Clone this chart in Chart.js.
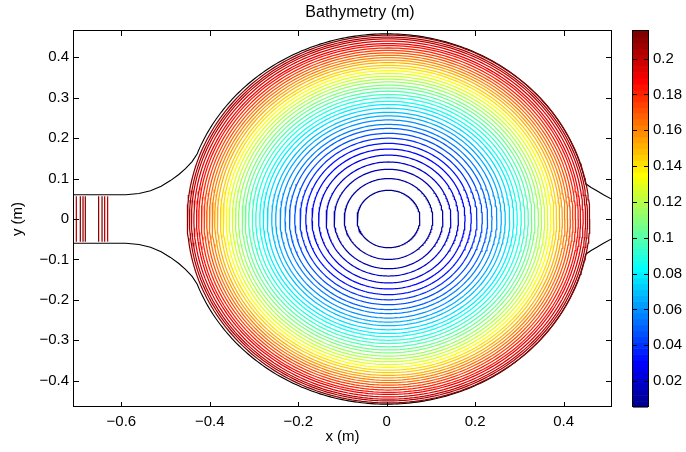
<!DOCTYPE html>
<html><head><meta charset="utf-8">
<script src="https://cdn.jsdelivr.net/npm/chart.js@4/dist/chart.umd.min.js"></script>
<style>
html,body{margin:0;padding:0;background:#fff;overflow:hidden;}
#wrap{position:relative;width:686px;height:452px;background:#fff;overflow:hidden;}
canvas{position:absolute;left:0;top:0;}
</style></head><body>
<div id="wrap"><canvas id="main" width="720" height="452"></canvas><canvas id="cbar" width="686" height="452"></canvas></div>
<script>
// ---------------- data ----------------
const contourLevels = [0.005,0.010,0.015,0.020,0.025,0.030,0.035,0.040,0.045,0.050,
  0.055,0.060,0.065,0.070,0.075,0.080,0.085,0.090,0.095,0.100,
  0.105,0.110,0.115,0.120,0.125,0.130,0.135,0.140,0.145,0.150,
  0.155,0.160,0.165,0.170,0.175,0.180,0.185,0.190,0.195,0.200,0.205,0.210];
const contourRadii = [0.071,0.100,0.123,0.141,0.158,0.173,0.187,0.200,0.212,0.224,
  0.234,0.245,0.255,0.264,0.274,0.283,0.291,0.300,0.308,0.316,
  0.324,0.331,0.339,0.346,0.353,0.360,0.367,0.374,0.380,0.387,
  0.393,0.399,0.405,0.411,0.417,0.423,0.429,0.434,0.440,0.4455,0.450,0.455];
const contourCenterX = 0.004;
const contourCenterY = 0;
const leftFlatX = -0.452;

const channelContourX = [-0.7017,-0.6927,-0.6866,-0.6814,-0.6513,-0.6436,-0.6377,-0.6310];
const channelContourLevels = [0.200,0.210,0.210,0.210,0.210,0.210,0.205,0.200];
const channelContourHalfHeight = 0.056;

const basinRadius = 0.458;
const leftFilletX = [-0.707,-0.590,-0.560,-0.534,-0.510,-0.489,-0.470,-0.455,-0.440,-0.428];
const leftFilletY = [0.060,0.060,0.063,0.070,0.081,0.095,0.110,0.1245,0.142,0.162];
const rightFilletX = [0.450,0.462,0.475,0.490,0.507];
const rightFilletY = [0.087,0.078,0.070,0.060,0.050];

const xTicks = [-0.6,-0.4,-0.2,0,0.2,0.4];
const yTicks = [-0.4,-0.3,-0.2,-0.1,0,0.1,0.2,0.3,0.4];
const cbarTicks = [0.02,0.04,0.06,0.08,0.10,0.12,0.14,0.16,0.18,0.20];
const colorMin = 0.0055, colorMax = 0.2154;
const xRange = [-0.707, 0.507];
const yRange = [-0.465, 0.465];

// ---------------- helpers ----------------
const FONT = "'Liberation Sans', Arial, Helvetica, sans-serif";
const FS = 15;
function jet64(){
  const n=64,m=16,u=[];
  for(let i=1;i<=m;i++)u.push(i/m);
  for(let i=1;i<m;i++)u.push(1);
  for(let i=m;i>=1;i--)u.push(i/m);
  const g0=Math.ceil(m/2)-(n%4===1?1:0);
  const J=Array.from({length:n},()=>[0,0,0]);
  for(let k=0;k<u.length;k++){
    const g=g0+k+1,r=g+m,b=g-m;
    if(r>=1&&r<=n)J[r-1][0]=u[k];
    if(g>=1&&g<=n)J[g-1][1]=u[k];
    if(b>=1&&b<=n)J[b-1][2]=u[k];
  }
  return J;
}
const JET = jet64();
function rgb(c){return `rgb(${Math.round(c[0]*255)},${Math.round(c[1]*255)},${Math.round(c[2]*255)})`;}
function levelColor(v){
  let i=Math.floor((v-colorMin)/(colorMax-colorMin)*64);
  i=Math.max(0,Math.min(63,i));
  return rgb(JET[i]);
}
function fmt(v){
  const s=String(+v.toFixed(2));
  return s.startsWith('-')?'\u2212'+s.slice(1):s;
}

// ---------------- datasets ----------------
const datasets=[];
function line(pts,color,w){
  datasets.push({data:pts,borderColor:color,borderWidth:w||1.25,showLine:true,pointRadius:0,pointHoverRadius:0,fill:false,tension:0});
}
contourLevels.forEach((lv,i)=>{
  const r=contourRadii[i],pts=[];
  for(let a=0;a<=360;a+=1.5){
    const t=a*Math.PI/180;
    let x=contourCenterX+r*Math.cos(t);
    const y=contourCenterY+r*Math.sin(t);
    if(x<leftFlatX)x=leftFlatX;
    pts.push({x,y});
  }
  line(pts,levelColor(lv));
});
channelContourX.forEach((x,i)=>{
  line([{x,y:-channelContourHalfHeight},{x,y:channelContourHalfHeight}],levelColor(channelContourLevels[i]));
});
// basin outline (top and bottom halves)
function outline(sign){
  const pts=[];
  leftFilletX.forEach((x,i)=>pts.push({x,y:sign*leftFilletY[i]}));
  const a0=Math.atan2(leftFilletY[leftFilletY.length-1],leftFilletX[leftFilletX.length-1]);
  const a1=Math.atan2(rightFilletY[0],rightFilletX[0]);
  const N=160;
  for(let k=1;k<N;k++){
    const a=a0+(a1-a0)*k/N;
    pts.push({x:basinRadius*Math.cos(a),y:sign*basinRadius*Math.sin(a)});
  }
  rightFilletX.forEach((x,i)=>pts.push({x,y:sign*rightFilletY[i]}));
  line(pts,'#000',1.1);
}
outline(1);outline(-1);

// ---------------- main chart ----------------
const boxPlugin={id:'box',afterDatasetsDraw(chart){
  const {ctx,chartArea:a,scales:{x,y}}=chart;
  ctx.save();
  ctx.strokeStyle='#000';ctx.lineWidth=1;
  ctx.beginPath();
  xTicks.forEach(v=>{
    const p=Math.round(x.getPixelForValue(v))+0.5;
    ctx.moveTo(p,a.bottom);ctx.lineTo(p,a.bottom-5);
    ctx.moveTo(p,a.top);ctx.lineTo(p,a.top+5);
  });
  yTicks.forEach(v=>{
    const p=Math.round(y.getPixelForValue(v))+0.5;
    ctx.moveTo(a.left,p);ctx.lineTo(a.left+5,p);
    ctx.moveTo(a.right,p);ctx.lineTo(a.right-5,p);
  });
  ctx.stroke();
  ctx.strokeRect(a.left-0.5,a.top-0.5,a.right-a.left+1,a.bottom-a.top);
  ctx.restore();
}};

new Chart(document.getElementById('main'),{
  type:'scatter',
  data:{datasets},
  options:{
    responsive:false,animation:false,events:[],
    layout:{padding:{left:0,right:0,top:0,bottom:0}},
    plugins:{
      legend:{display:false},tooltip:{enabled:false},
      title:{display:true,text:'Bathymetry (m)',color:'#000',font:{family:FONT,size:16,weight:'normal'},padding:{top:3,bottom:8.8}}
    },
    scales:{
      x:{type:'linear',min:xRange[0],max:xRange[1],
        afterBuildTicks:s=>{s.ticks=xTicks.map(v=>({value:v}));},
        afterFit:s=>{s.height=45;},
        grid:{display:false,drawTicks:false},border:{display:false},
        ticks:{callback:v=>fmt(v),color:'#000',font:{family:FONT,size:FS},padding:6,maxRotation:0},
        title:{display:true,text:'x (m)',color:'#000',font:{family:FONT,size:FS},padding:{top:0,bottom:6}}
      },
      y:{type:'linear',min:yRange[0],max:yRange[1],
        afterBuildTicks:s=>{s.ticks=yTicks.map(v=>({value:v}));},
        afterFit:s=>{s.width=74;},
        grid:{display:false,drawTicks:false},border:{display:false},
        ticks:{callback:v=>fmt(v),color:'#000',font:{family:FONT,size:FS},padding:5},
        title:{display:true,text:'y (m)',color:'#000',font:{family:FONT,size:FS},padding:{top:9,bottom:0}}
      },
      yRight:{type:'linear',position:'right',min:yRange[0],max:yRange[1],
        afterFit:s=>{s.width=109;},
        grid:{display:false,drawTicks:false},border:{display:false},
        ticks:{display:false}
      }
    }
  },
  plugins:[boxPlugin]
});

// ---------------- colorbar ----------------
const cbarPlugin={id:'cbar',beforeDatasetsDraw(chart){
  const {ctx,chartArea:a,scales:{y}}=chart;
  ctx.save();
  for(let i=0;i<64;i++){
    const v0=colorMin+(colorMax-colorMin)*i/64, v1=colorMin+(colorMax-colorMin)*(i+1)/64;
    const p0=y.getPixelForValue(v0), p1=y.getPixelForValue(v1);
    ctx.fillStyle=rgb(JET[i]);
    ctx.fillRect(a.left,p1,a.right-a.left,p0-p1+0.6);
  }
  ctx.strokeStyle='#000';ctx.lineWidth=1;ctx.beginPath();
  cbarTicks.forEach(v=>{
    const p=Math.round(y.getPixelForValue(v))+0.5;
    ctx.moveTo(a.left,p);ctx.lineTo(a.left+4,p);
    ctx.moveTo(a.right,p);ctx.lineTo(a.right-4,p);
  });
  ctx.stroke();
  ctx.strokeRect(a.left-0.5,a.top-0.5,a.right-a.left+1,a.bottom-a.top);
  ctx.restore();
}};
new Chart(document.getElementById('cbar'),{
  type:'scatter',
  data:{datasets:[{data:[]}]},
  options:{
    responsive:false,animation:false,events:[],
    layout:{padding:{left:633,right:0,top:31,bottom:45}},
    plugins:{legend:{display:false},tooltip:{enabled:false},title:{display:false}},
    scales:{
      x:{type:'linear',min:0,max:1,display:false},
      y:{type:'linear',position:'right',min:colorMin,max:colorMax,
        afterBuildTicks:s=>{s.ticks=cbarTicks.map(v=>({value:v}));},
        afterFit:s=>{s.width=38;},
        grid:{display:false,drawTicks:false},border:{display:false},
        ticks:{callback:v=>fmt(v),color:'#000',font:{family:FONT,size:FS},padding:5}
      }
    }
  },
  plugins:[cbarPlugin]
});
</script>
</body></html>
